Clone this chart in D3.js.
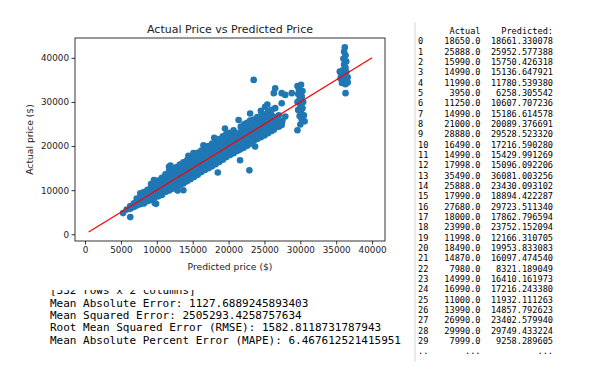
<!DOCTYPE html>
<html>
<head>
<meta charset="utf-8">
<script src="https://cdn.jsdelivr.net/npm/d3@7"></script>
<style>
  body { margin: 0; background: #fff; }
  svg { display: block; }
</style>
</head>
<body>
<svg width="600" height="370"></svg>
<script>
// scatter: [predicted, actual]
var scatter = [
  [5300,4800],[5800,5600],[6300,6400],[6300,5800],[6300,3900],[6800,6200],[6800,7000],
  [7200,6500],[7200,7400],[7200,8100],
  [7700,6800],[7700,7600],[7700,8400],[7700,9300],
  [8200,7000],[8200,7900],[8200,8800],[8200,9600],
  [8700,7500],[8700,8300],[8700,9200],[8700,10100],
  [9200,7800],[9200,8800],[9200,9700],[9200,10600],[9200,11400],
  [9700,7100],[9700,8400],[9700,9300],[9700,10300],[9700,11200],[9700,11900],
  [9900,6900],[9600,12300],
  [10200,8600],[10200,9500],[10200,10400],[10200,11300],[10200,12200],
  [10700,8900],[10700,10000],[10700,11000],[10700,11900],[10700,12800],
  [11200,9600],[11200,10500],[11200,11500],[11200,12500],[11200,13600],
  [11700,9900],[11700,11000],[11700,12000],[11700,13100],[11700,14300],[11700,15300],
  [11900,15600],
  [12200,10300],[12200,11400],[12200,12500],[12200,13600],[12200,14700],
  [12700,10800],[12700,11900],[12700,13000],[12700,14200],[12700,15200],
  [12900,9900],
  [13200,11200],[13200,12400],[13200,13500],[13200,14600],[13200,15800],
  [13700,10000],[13700,11500],[13700,12800],[13700,14000],[13700,15100],[13700,16300],
  [14200,12000],[14200,13300],[14200,14500],[14200,15700],[14200,16800],[14400,17800],
  [14700,12500],[14700,13800],[14700,15000],[14700,16200],[14700,17400],
  [15200,13000],[15200,14300],[15200,15500],[15200,16700],[15200,17900],[15100,18400],
  [15700,13500],[15700,14800],[15700,16000],[15700,17200],[15700,18500],
  [16200,14100],[16200,15300],[16200,16500],[16200,17700],[16200,19000],
  [16700,14600],[16700,15800],[16700,17000],[16700,18300],[16700,19600],[16500,20200],
  [17200,15000],[17200,16300],[17200,17600],[17200,18900],[17200,20000],
  [17700,15400],[17700,16800],[17700,18100],[17700,19400],[17700,20600],
  [18200,15900],[18200,17200],[18200,18600],[18200,19900],[18200,21100],
  [18500,14000],[18000,21900],
  [18700,16400],[18700,17700],[18700,19100],[18700,20400],[18700,21600],
  [19200,16900],[19200,18200],[19200,19600],[19200,20900],[19200,22200],
  [19700,17500],[19700,18700],[19700,20000],[19700,21300],[19700,22800],[19500,24000],
  [20200,18000],[20200,19200],[20200,20500],[20200,21800],[20200,23000],
  [20700,18400],[20700,19700],[20700,21000],[20700,22300],[20700,23600],
  [21200,18900],[21200,20200],[21200,21500],[21200,22700],[21400,25900],
  [21600,16800],[21600,19200],[21600,20600],[21600,21900],[21600,23100],[21700,24400],
  [22100,19600],[22100,20900],[22100,22300],[22100,23500],[22200,25000],
  [22600,20100],[22600,21400],[22600,22700],[22600,24000],[22600,25300],
  [22900,14500],
  [23000,27400],[23000,20500],[23000,21800],[23000,23100],[23000,24300],[23000,25800],
  [23500,35000],[23700,19900],[23500,21200],[23500,22300],[23500,23500],[23500,24800],[23500,26000],
  [24000,21600],[24000,22800],[24000,24000],[24000,25200],[24000,26600],
  [24500,22000],[24500,23200],[24500,24400],[24500,25600],[24500,26800],[24500,28000],
  [25000,22400],[25000,23600],[25000,24900],[25000,26000],[25000,27200],[25100,28900],
  [25500,22900],[25500,24100],[25500,25300],[25500,26500],[25500,27800],[25400,29400],
  [26000,23400],[26000,24600],[26000,25800],[26000,27000],[26000,28200],
  [26300,23700],[26300,32000],[26500,33100],[26500,24200],[26500,25400],[26500,26600],[26500,28600],
  [27000,24400],[27000,25600],[27000,27000],
  [27400,32000],[27400,29700],[27400,24800],[27900,26700],[27500,25700],[27900,31600],
  // ~30000 column
  [29600,33600],[30100,33900],[29800,32800],[30300,32500],[29700,31800],[30200,31200],
  [29900,30600],[30400,30000],[29600,30000],[30000,29300],[30300,28600],[29700,28200],
  [30100,27600],[30500,27000],[29900,26800],[30200,26000],[30600,25600],[30000,24900],
  [29600,23600],[28800,32000],
  // ~36000 column
  [36200,42400],[36100,41400],[36300,40600],[36000,39800],[36400,39200],[36100,38500],
  [36300,37800],[35500,36900],[35900,37200],[36400,36800],[35700,36200],[36200,36000],
  [36600,35600],[35600,35300],[36000,35000],[36500,34700],[35800,34300],[36300,34000],
  [36600,34400],[36300,32000]
];

// printed head of the dataframe
var rowIndex = ["0","1","2","3","4","5","6","7","8","9","10","11","12","13","14",
  "15","16","17","18","19","20","21","22","23","24","25","26","27","28","29"];
var actualCol = ["18650.0","25888.0","15990.0","14990.0","11990.0","3950.0","11250.0",
  "14990.0","21000.0","28880.0","16490.0","14990.0","17998.0","35490.0","25888.0",
  "17990.0","27680.0","18000.0","23990.0","11998.0","18490.0","14870.0","7980.0",
  "14999.0","16990.0","11000.0","13990.0","26990.0","29990.0","7999.0"];
var predictedCol = ["18661.330078","25952.577388","15750.426318","15136.647921",
  "11780.539380","6258.305542","10607.707236","15186.614578","20089.376691",
  "29528.523320","17216.590280","15429.991269","15096.092206","36081.003256",
  "23430.093102","18894.422287","29723.511340","17862.796594","23752.152094",
  "12166.310705","19953.833083","16097.474540","8321.189049","16410.161973",
  "17216.243380","11932.111263","14857.792623","23402.579940","29749.433224",
  "9258.289605"];

var metrics = [
  "Mean Absolute Error: 1127.6889245893403",
  "Mean Squared Error: 2505293.4258757634",
  "Root Mean Squared Error (RMSE): 1582.8118731787943",
  "Mean Absolute Percent Error (MAPE): 6.467612521415951"
];

var xTicks = [0,5000,10000,15000,20000,25000,30000,35000,40000];
var yTicks = [0,10000,20000,30000,40000];
var fitLine = [[500,500],[40000,40000]];

var svg = d3.select("svg");
svg.append("rect").attr("width",600).attr("height",370).attr("fill","#fff");

var plotL = 75, plotR = 385, plotT = 38, plotB = 241;

var x = d3.scaleLinear().domain([-1400, 41800]).range([plotL, plotR]);
var y = d3.scaleLinear().domain([-1520, 44500]).range([plotB, plotT]);

var font = "'DejaVu Sans', sans-serif";
var mono = "'DejaVu Sans Mono', monospace";

// table of values on the right
svg.append("line")
  .attr("x1",415).attr("x2",415).attr("y1",22).attr("y2",362)
  .attr("stroke","#d6d6d6").attr("stroke-width",1);

var tbl = svg.append("g").style("font-family",mono).style("font-size","8.6px").attr("fill","#000");
function rowY(i) { return 44.3 + 10.33 * i; }
tbl.append("text").attr("x",480.5).attr("y",rowY(-1)).attr("text-anchor","end").text("Actual");
tbl.append("text").attr("x",553).attr("y",rowY(-1)).attr("text-anchor","end").text("Predicted:");
rowIndex.forEach(function(d,i){
  tbl.append("text").attr("x",418).attr("y",rowY(i)).text(d);
  tbl.append("text").attr("x",480.5).attr("y",rowY(i)).attr("text-anchor","end").text(actualCol[i]);
  tbl.append("text").attr("x",553).attr("y",rowY(i)).attr("text-anchor","end").text(predictedCol[i]);
});
tbl.append("text").attr("x",418).attr("y",rowY(30)).text("..");
tbl.append("text").attr("x",480.5).attr("y",rowY(30)).attr("text-anchor","end").text("...");
tbl.append("text").attr("x",553).attr("y",rowY(30)).attr("text-anchor","end").text("...");

// printed metrics below the plot
svg.append("clipPath").attr("id","cut").append("rect")
  .attr("x",0).attr("y",290).attr("width",415).attr("height",80);
var txt = svg.append("g").style("font-family",mono).style("font-size","11px").attr("fill","#000");
txt.append("text").attr("x",50).attr("y",294).attr("clip-path","url(#cut)").text("[332 rows x 2 columns]");
metrics.forEach(function(m,i){
  txt.append("text").attr("x",50).attr("y",306.6 + 12.4*i).text(m);
});

// plot
var g = svg.append("g");

g.selectAll("circle")
  .data(scatter)
  .enter().append("circle")
  .attr("cx", function(d){ return x(d[0]); })
  .attr("cy", function(d){ return y(d[1]); })
  .attr("r", 3.3)
  .attr("fill", "#1f77b4");

g.append("path")
  .datum(fitLine)
  .attr("d", d3.line().x(function(d){ return x(d[0]); }).y(function(d){ return y(d[1]); }))
  .attr("stroke","#ff0000").attr("stroke-width",1.2).attr("fill","none");

var xAxis = g.append("g")
  .attr("transform","translate(0," + plotB + ")")
  .call(d3.axisBottom(x).tickValues(xTicks).tickSize(3.5).tickPadding(2.5).tickFormat(d3.format("d")));
var yAxis = g.append("g")
  .attr("transform","translate(" + plotL + ",0)")
  .call(d3.axisLeft(y).tickValues(yTicks).tickSize(3.5).tickPadding(2.5).tickFormat(d3.format("d")));
[xAxis, yAxis].forEach(function(a){
  a.select(".domain").remove();
  a.selectAll("line").attr("stroke","#000").attr("stroke-width",0.8);
  a.selectAll("text").style("font-family",font).style("font-size","8.8px").attr("fill","#222");
});

g.append("rect")
  .attr("x",plotL).attr("y",plotT).attr("width",plotR-plotL).attr("height",plotB-plotT)
  .attr("fill","none").attr("stroke","#000").attr("stroke-width",0.8);

svg.append("text")
  .attr("x",(plotL+plotR)/2).attr("y",33)
  .attr("text-anchor","middle")
  .style("font-family",font).style("font-size","11px").attr("fill","#222")
  .text("Actual Price vs Predicted Price");

svg.append("text")
  .attr("x",(plotL+plotR)/2).attr("y",269.5)
  .attr("text-anchor","middle")
  .style("font-family",font).style("font-size","9.2px").attr("fill","#222")
  .text("Predicted price ($)");

svg.append("text")
  .attr("transform","translate(32.5," + ((plotT+plotB)/2) + ") rotate(-90)")
  .attr("text-anchor","middle")
  .style("font-family",font).style("font-size","9.2px").attr("fill","#222")
  .text("Actual price ($)");
</script>
</body>
</html>
